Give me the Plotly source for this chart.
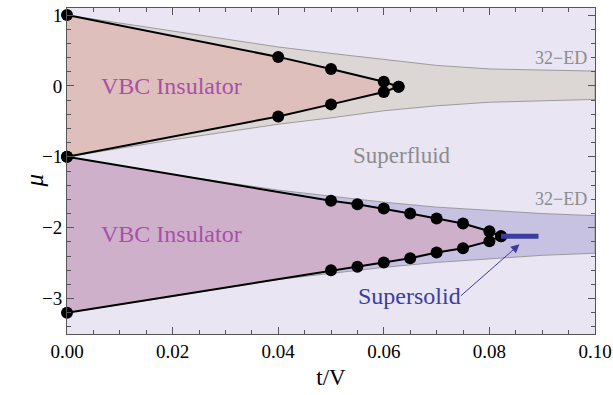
import plotly.graph_objects as go

# ---- data ----
# upper VBC lobe (mu around 0)
up_top_t = [0.0, 0.04, 0.05, 0.06, 0.0628]
up_top_mu = [1.0, 0.41, 0.24, 0.06, -0.01]
up_bot_t = [0.0, 0.04, 0.05, 0.06, 0.0628]
up_bot_mu = [-1.0, -0.43, -0.26, -0.085, -0.01]

# lower VBC lobe (mu around -2)
lo_top_t = [0.0, 0.05, 0.055, 0.06, 0.065, 0.07, 0.075, 0.08, 0.0822]
lo_top_mu = [-1.0, -1.62, -1.67, -1.73, -1.80, -1.87, -1.94, -2.05, -2.12]
lo_bot_t = [0.0, 0.05, 0.055, 0.06, 0.065, 0.07, 0.075, 0.08, 0.0822]
lo_bot_mu = [-3.2, -2.60, -2.55, -2.49, -2.43, -2.35, -2.29, -2.19, -2.12]

# 32-ED bands
ed_t = [0.0, 0.02, 0.04, 0.05, 0.06, 0.07, 0.08, 0.09, 0.1]
ed1_hi = [1.0, 0.77, 0.55, 0.46, 0.37, 0.29, 0.24, 0.22, 0.21]
ed1_lo = [-1.0, -0.76, -0.54, -0.45, -0.35, -0.28, -0.23, -0.21, -0.19]
ed2_hi = [-1.0, -1.25, -1.47, -1.56, -1.64, -1.71, -1.76, -1.80, -1.83]
ed2_lo = [-3.2, -2.97, -2.73, -2.64, -2.56, -2.49, -2.44, -2.39, -2.36]

# supersolid segment
ss_t = [0.0822, 0.0893]
ss_mu = [-2.12, -2.12]

BG = "#E9E5F3"
ED1 = "#DCD6D4"
ED2 = "#C8C2E2"
LOBE1 = "#DFBFBB"
LOBE2 = "#CEB0CB"
FONT = "Liberation Serif"

fig = go.Figure()

def poly(ts_a, ms_a, ts_b, ms_b, color):
    fig.add_trace(go.Scatter(
        x=list(ts_a) + list(ts_b)[::-1],
        y=list(ms_a) + list(ms_b)[::-1],
        fill="toself", fillcolor=color, mode="lines",
        line=dict(color="#8a8a8a", width=0.8), hoverinfo="skip", showlegend=False))

poly(ed_t, ed1_hi, ed_t, ed1_lo, ED1)
poly(ed_t, ed2_hi, ed_t, ed2_lo, ED2)

def lobe(tt, mt, tb, mb, color):
    fig.add_trace(go.Scatter(
        x=list(tt) + list(tb)[::-1], y=list(mt) + list(mb)[::-1],
        fill="toself", fillcolor=color, mode="none",
        hoverinfo="skip", showlegend=False))

lobe(up_top_t, up_top_mu, up_bot_t, up_bot_mu, LOBE1)
lobe(lo_top_t, lo_top_mu, lo_bot_t, lo_bot_mu, LOBE2)

for tt, mm in [(up_top_t, up_top_mu), (up_bot_t, up_bot_mu),
               (lo_top_t, lo_top_mu), (lo_bot_t, lo_bot_mu)]:
    fig.add_trace(go.Scatter(
        x=tt, y=mm, mode="lines+markers",
        line=dict(color="black", width=2),
        marker=dict(color="black", size=12),
        cliponaxis=False, showlegend=False))

fig.add_trace(go.Scatter(x=ss_t, y=ss_mu, mode="lines",
                         line=dict(color="#3C3CA0", width=5), showlegend=False))

anns = [
    dict(x=0.0198, y=0.0, text="VBC Insulator", font=dict(color="#A850A8", size=24)),
    dict(x=0.0198, y=-2.09, text="VBC Insulator", font=dict(color="#A850A8", size=24)),
    dict(x=0.0635, y=-0.98, text="Superfluid", font=dict(color="#8C8C8C", size=23)),
    dict(x=0.0935, y=0.4, text="32−ED", font=dict(color="#8C8C8C", size=18)),
    dict(x=0.0935, y=-1.6, text="32−ED", font=dict(color="#8C8C8C", size=18)),
    dict(x=0.0649, y=-2.97, text="Supersolid", font=dict(color="#3C3CA0", size=24)),
]
for a in anns:
    a["font"]["family"] = FONT
    fig.add_annotation(showarrow=False, xref="x", yref="y", **a)

fig.add_annotation(x=0.0857, y=-2.235, ax=0.0743, ay=-2.98, axref="x", ayref="y",
                   xref="x", yref="y", text="", showarrow=True,
                   arrowhead=2, arrowsize=1.7, arrowwidth=1, arrowcolor="#3C3CA0")

# y-axis title placed explicitly
fig.add_annotation(xref="paper", yref="paper", x=0, y=0.5, xshift=-49, yshift=-10,
                   text="<i>μ</i>", textangle=-90, showarrow=False,
                   font=dict(family=FONT, size=25, color="black"))

axis_common = dict(showgrid=False, zeroline=False, showline=True, linecolor="#555555",
                   linewidth=1, mirror="ticks", ticks="inside", ticklen=7, tickcolor="#555555",
                   automargin=False,
                   tickfont=dict(family=FONT, size=19, color="black"))

fig.update_xaxes(range=[0, 0.1], tickvals=[0, 0.02, 0.04, 0.06, 0.08, 0.1],
                 ticktext=["0.00", "0.02", "0.04", "0.06", "0.08", "0.10"],
                 minor=dict(dtick=0.005, tick0=0, ticks="inside", ticklen=4, tickcolor="#555555"),
                 title=dict(text="t/V", font=dict(family=FONT, size=23, color="black"), standoff=8),
                 **axis_common)
fig.update_yaxes(range=[-3.5, 1.1], tickvals=[-3, -2, -1, 0, 1],
                 ticktext=["−3", "−2", "−1", "0", "1"],
                 minor=dict(dtick=0.2, tick0=0, ticks="inside", ticklen=4, tickcolor="#555555"),
                 **axis_common)

fig.update_layout(width=613, height=395, margin=dict(l=67, r=18, t=8, b=61),
                  plot_bgcolor=BG, paper_bgcolor="white", showlegend=False)

fig.write_html("out.html")
